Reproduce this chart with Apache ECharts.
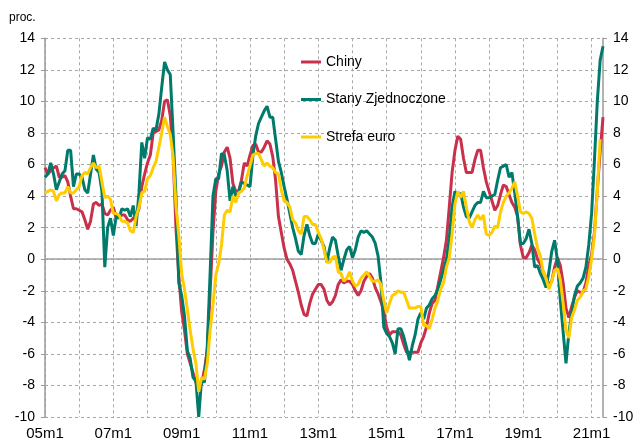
<!DOCTYPE html>
<html><head><meta charset="utf-8">
<script src="https://cdn.jsdelivr.net/npm/echarts@6/dist/echarts.min.js"></script>
<style>html,body{margin:0;padding:0;background:#fff}#c{width:640px;height:441px}</style>
</head><body><div id="c"></div>
<script>
// months 2005m1 .. 2021m5
const startYear = 5, endYear = 21, endMonth = 5;
const months = [];
for (let y = startYear; y <= endYear; y++) {
  for (let m = 1; m <= 12; m++) {
    if (y === endYear && m > endMonth) break;
    months.push((y < 10 ? '0' : '') + y + 'm' + m);
  }
}
const seriesNames = ['Chiny', 'Stany Zjednoczone', 'Strefa euro'];
const chiny = [
5.8,5.4,5.6,5.8,5.9,5.2,5.2,5.3,4.9,4.0,3.2,3.2,
3.1,3.0,2.5,1.9,2.4,3.5,3.6,3.4,3.5,2.9,2.8,3.1,
3.3,2.6,2.7,2.8,2.8,2.5,2.4,2.6,2.7,3.2,4.6,5.4,
6.1,6.6,8.0,8.1,8.2,8.8,10.0,10.1,9.1,6.6,2.0,-1.1,
-3.3,-4.5,-6.0,-6.6,-7.2,-7.8,-8.2,-7.9,-7.0,-5.8,-2.1,1.7,
4.3,5.4,5.9,6.8,7.1,6.4,4.8,4.3,4.3,5.0,6.1,5.9,
6.6,7.2,7.3,6.8,6.8,7.1,7.5,7.3,6.5,5.0,2.7,1.7,
0.7,0.0,-0.3,-0.7,-1.4,-2.1,-2.9,-3.5,-3.6,-2.8,-2.2,-1.9,
-1.6,-1.6,-1.9,-2.6,-2.9,-2.7,-2.3,-1.6,-1.3,-1.5,-1.4,-1.4,
-1.6,-2.0,-2.3,-2.0,-1.4,-1.1,-0.9,-1.2,-1.8,-2.2,-2.7,-3.3,
-4.3,-4.8,-4.6,-4.6,-4.6,-4.8,-5.4,-5.9,-5.9,-5.9,-5.9,-5.9,
-5.3,-4.9,-4.3,-3.4,-2.8,-2.6,-1.7,-0.8,0.1,1.2,3.3,5.5,
6.9,7.8,7.6,6.4,5.5,5.5,5.5,6.3,6.9,6.9,5.8,4.9,
4.3,3.7,3.1,3.4,4.1,4.7,4.6,4.1,3.6,3.3,2.7,0.9,
0.1,0.1,0.4,0.9,0.6,0.0,-0.3,-0.8,-1.2,-1.6,-1.4,-0.5,
0.1,-0.4,-1.5,-3.1,-3.7,-3.0,-2.4,-2.0,-2.1,-2.1,-1.5,-0.4,
0.3,1.7,4.4,6.8,9.0];
const stany = [
5.2,5.4,6.1,5.4,4.4,4.9,5.4,5.6,6.9,6.9,4.6,5.4,
5.4,5.2,4.4,4.2,5.4,6.6,5.7,5.5,4.3,-0.5,2.0,2.6,
1.5,2.7,2.6,3.2,3.1,3.2,2.7,3.4,2.1,4.2,7.4,6.4,
7.7,7.6,8.3,8.2,9.2,10.9,12.5,12.0,11.7,8.0,4.0,-1.5,
-2.3,-3.6,-5.8,-6.3,-7.5,-7.7,-10.0,-7.6,-7.8,-5.5,-0.9,4.0,
5.1,5.1,6.7,6.6,5.6,3.7,4.6,4.0,4.2,4.9,4.8,4.7,
4.6,6.5,7.8,8.6,9.0,9.4,9.7,9.0,9.0,7.6,6.2,5.5,
4.6,3.8,2.9,2.0,1.3,0.5,0.3,1.5,2.2,1.5,1.0,1.0,
1.6,1.2,0.8,-0.2,0.7,1.4,1.2,0.2,-0.7,0.0,0.6,0.8,
0.1,0.6,1.4,1.8,1.7,1.8,1.6,1.4,1.0,0.2,-1.5,-4.3,
-4.7,-4.9,-5.3,-6.0,-4.4,-4.4,-4.9,-5.6,-6.4,-5.5,-4.8,-3.8,
-3.4,-3.8,-3.1,-2.9,-2.5,-2.3,-1.9,-1.3,-0.7,0.0,1.3,3.3,
4.3,4.0,4.2,3.3,2.7,2.6,3.0,3.4,3.6,3.6,4.3,3.9,
3.9,4.0,4.1,5.0,5.8,5.9,6.0,5.2,5.5,4.2,2.7,1.0,
1.0,1.3,1.9,1.0,-0.5,-0.4,-0.9,-1.3,-1.8,-0.8,0.5,1.2,
-0.1,-2.6,-4.6,-6.6,-4.7,-3.4,-2.3,-1.7,-1.5,-1.2,-0.5,0.9,
2.9,6.3,10.0,12.6,13.5];
const strefa = [
4.2,4.3,4.4,4.3,3.7,4.1,4.2,4.2,4.6,4.2,4.2,4.4,
4.6,5.3,5.5,5.4,5.8,6.1,5.8,5.9,4.9,3.9,4.0,3.8,
2.9,2.9,2.8,2.4,2.4,2.3,1.8,1.7,2.7,3.3,4.2,4.3,
5.1,5.3,5.8,6.2,7.1,8.0,9.0,8.4,7.9,6.5,3.4,1.5,
-0.9,-1.9,-3.2,-4.5,-5.7,-6.6,-8.4,-7.5,-7.6,-6.6,-4.5,-2.9,
-1.0,-0.3,0.9,2.8,3.1,3.0,4.0,3.6,4.2,4.3,4.5,5.3,
5.9,6.6,6.7,6.7,6.3,5.9,6.1,5.9,5.8,5.5,5.4,4.4,
3.7,3.6,3.3,2.5,2.3,1.8,1.6,2.7,2.7,2.5,2.2,2.2,
1.7,1.3,0.6,-0.2,-0.2,0.1,0.2,-0.8,-0.9,-1.4,-1.2,-0.8,
-1.4,-1.7,-1.6,-1.2,-1.0,-0.8,-1.1,-1.4,-1.4,-1.3,-1.6,-2.6,
-3.4,-2.8,-2.3,-2.2,-2.0,-2.1,-2.1,-2.6,-3.1,-3.1,-3.1,-3.0,
-3.0,-4.2,-4.2,-4.4,-3.8,-3.1,-2.6,-1.9,-1.5,-0.5,0.1,1.6,
3.5,4.3,3.9,4.3,3.3,2.4,2.0,2.5,2.8,2.5,2.8,1.6,
1.5,1.7,2.1,2.0,3.0,3.6,4.0,4.2,4.5,4.9,4.0,3.0,
2.9,3.0,2.9,2.6,1.6,0.7,0.2,-0.8,-1.2,-1.9,-1.4,-0.7,
-0.6,-1.3,-2.8,-4.5,-5.0,-3.7,-3.2,-2.6,-2.4,-2.0,-1.9,-1.1,
0.0,1.5,4.3,7.6];
const yMin = -10, yMax = 14, yStep = 2;
const colors = ['#C8304B', '#007A6A', '#FFCC00'];

const FONT = '"Liberation Sans", Arial, sans-serif';
const chart = echarts.init(document.getElementById('c'), null, {renderer: 'canvas'});
const yAxisBase = {
  type: 'value', min: yMin, max: yMax, interval: yStep,
  axisLine: {show: true, lineStyle: {color: '#9a9a9a', width: 1.5}},
  axisTick: {show: true, length: 4, lineStyle: {color: '#9a9a9a'}},
  axisLabel: {fontSize: 14, color: '#000', fontFamily: FONT, margin: 10}
};
chart.setOption({
  animation: false,
  color: colors,
  textStyle: {fontFamily: FONT},
  grid: {left: 45, right: 37, top: 38.3, bottom: 23.3},
  graphic: [
    {type: 'text', left: 9, top: 12, style: {text: 'proc.', fontSize: 12, fill: '#000', fontFamily: FONT}}
  ],
  legend: {
    orient: 'vertical', left: 301, top: 54, padding: 0, itemWidth: 20, itemHeight: 3, itemGap: 21.5,
    icon: 'rect',
    data: seriesNames,
    textStyle: {fontSize: 14, color: '#000', fontFamily: FONT, lineHeight: 16}
  },
  xAxis: {
    type: 'category', boundaryGap: false, data: months,
    axisLine: {show: false, onZero: false}, axisTick: {show: false},
    axisLabel: {interval: (i) => i % 24 === 0, fontSize: 15, color: '#000', margin: 9, fontFamily: FONT},
    splitLine: {show: true, interval: (i) => i % 12 === 0, lineStyle: {type: [3, 3], color: '#a8a8a8', width: 1}}
  },
  yAxis: [
    Object.assign({}, yAxisBase, {position: 'left',
      splitLine: {show: true, lineStyle: {type: [3, 3], color: '#a8a8a8', width: 1}}}),
    Object.assign({}, yAxisBase, {position: 'right', splitLine: {show: false}})
  ],
  series: [
    {name: seriesNames[0], type: 'line', data: chiny, symbol: 'none', lineStyle: {width: 3},
     markLine: {silent: true, symbol: 'none', z: 1, label: {show: false},
       lineStyle: {type: 'solid', color: '#a0a0a0', width: 1.5}, data: [{yAxis: 0}]}},
    {name: seriesNames[1], type: 'line', data: stany, symbol: 'none', lineStyle: {width: 3}},
    {name: seriesNames[2], type: 'line', data: strefa, symbol: 'none', lineStyle: {width: 3}}
  ]
});
</script></body></html>
